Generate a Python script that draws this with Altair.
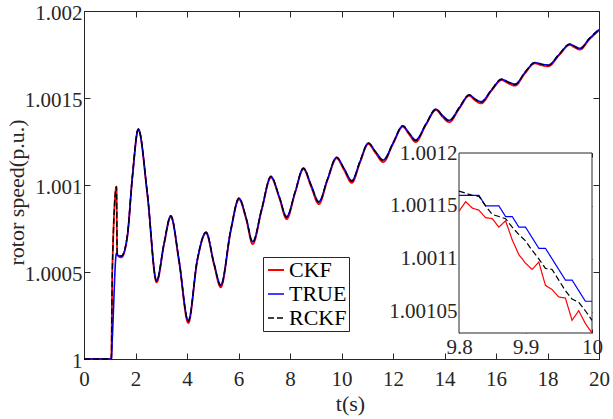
import altair as alt
import pandas as pd

# ---------------------------------------------------------------- data
SERIES = ["CKF", "TRUE", "RCKF"]
SERIES_COLORS = ["#ff0000", "#0000ff", "#000000"]
SERIES_DASHES = [[1, 0], [1, 0], [6, 3]]
SERIES_WIDTHS = [1.8, 1.4, 1.4]

# full record, 0-20 s
T_MAIN = [0.0, 1.06, 1.10, 1.26, 1.29, 1.45, 1.68, 1.88, 2.11, 2.46,
          2.82, 3.11, 3.37, 3.69, 4.05, 4.40, 4.74, 5.05, 5.31, 5.70,
          6.02, 6.30, 6.55, 6.90, 7.26, 7.58, 7.87, 8.20, 8.52, 8.82,
          9.12, 9.45, 9.81, 10.10, 10.40, 10.72, 11.04, 11.33, 11.62, 12.00,
          12.38, 12.62, 12.88, 13.28, 13.67, 13.92, 14.18, 14.58, 14.96, 15.18,
          15.42, 15.82, 16.22, 16.48, 16.74, 17.12, 17.51, 17.77, 18.03, 18.45,
          18.87, 19.06, 19.26, 19.62, 20.00]

TRUE_MAIN = [1.0, 1.0, 1.000121, 1.000607, 1.000600, 1.000590, 1.000703, 1.001048, 1.001320, 1.000952,
             1.000450, 1.000665, 1.000822, 1.000569, 1.000220, 1.000569, 1.000728, 1.000550, 1.000425, 1.000741,
             1.000923, 1.000810, 1.000674, 1.000860, 1.001048, 1.000935, 1.000818, 1.000960, 1.001096, 1.001000,
             1.000904, 1.001030, 1.001158, 1.001095, 1.001025, 1.001135, 1.001240, 1.001190, 1.001144, 1.001240,
             1.001339, 1.001300, 1.001259, 1.001350, 1.001435, 1.001400, 1.001372, 1.001445, 1.001517, 1.001495,
             1.001479, 1.001545, 1.001607, 1.001592, 1.001580, 1.001645, 1.001703, 1.001695, 1.001690, 1.001750,
             1.001809, 1.001797, 1.001786, 1.001840, 1.001893]

RCKF_MAIN = [1.0, 1.0, 1.000511, 1.000990, 1.000603, 1.000592, 1.000706, 1.001050, 1.001322, 1.000950,
             1.000447, 1.000667, 1.000824, 1.000566, 1.000216, 1.000571, 1.000730, 1.000548, 1.000421, 1.000743,
             1.000925, 1.000808, 1.000670, 1.000862, 1.001050, 1.000933, 1.000814, 1.000962, 1.001098, 1.000998,
             1.000900, 1.001032, 1.001160, 1.001093, 1.001021, 1.001137, 1.001242, 1.001188, 1.001140, 1.001242,
             1.001341, 1.001298, 1.001255, 1.001352, 1.001437, 1.001398, 1.001368, 1.001447, 1.001519, 1.001493,
             1.001475, 1.001547, 1.001609, 1.001590, 1.001576, 1.001647, 1.001705, 1.001693, 1.001686, 1.001752,
             1.001811, 1.001795, 1.001782, 1.001842, 1.001895]

CKF_MAIN = [1.0, 1.0, 1.000511, 1.000990, 1.000598, 1.000584, 1.000700, 1.001046, 1.001318, 1.000946,
            1.000440, 1.000660, 1.000818, 1.000560, 1.000207, 1.000565, 1.000724, 1.000541, 1.000412, 1.000736,
            1.000918, 1.000802, 1.000660, 1.000856, 1.001043, 1.000928, 1.000804, 1.000956, 1.001092, 1.000990,
            1.000890, 1.001026, 1.001153, 1.001086, 1.001012, 1.001130, 1.001236, 1.001182, 1.001131, 1.001236,
            1.001335, 1.001292, 1.001247, 1.001346, 1.001431, 1.001392, 1.001361, 1.001441, 1.001513, 1.001487,
            1.001469, 1.001541, 1.001603, 1.001584, 1.001571, 1.001641, 1.001699, 1.001688, 1.001682, 1.001746,
            1.001805, 1.001790, 1.001778, 1.001836, 1.001889]

# close-up, 9.8-10 s
T_ZOOM = [9.80, 9.81, 9.82, 9.83, 9.84, 9.85, 9.86, 9.87, 9.88, 9.89, 9.90,
          9.91, 9.92, 9.93, 9.94, 9.95, 9.96, 9.97, 9.98, 9.99, 10.00]

TRUE_ZOOM = [1.00116, 1.00116, 1.00116, 1.00116, 1.00115, 1.00115, 1.00115, 1.00114, 1.00114, 1.00113, 1.00113,
             1.00112, 1.00111, 1.00111, 1.00110, 1.00109, 1.00108, 1.00108, 1.00107, 1.00106, 1.00106]

RCKF_ZOOM = [1.001164, 1.001162, 1.001160, 1.001159, 1.001150, 1.001142, 1.001140, 1.001138, 1.001130, 1.001123, 1.001117,
             1.001108, 1.001100, 1.001091, 1.001090, 1.001080, 1.001070, 1.001062, 1.001059, 1.001051, 1.001042]

CKF_ZOOM = [1.001145, 1.001154, 1.001148, 1.001146, 1.001139, 1.001138, 1.001130, 1.001136, 1.001118, 1.001104, 1.001096,
            1.001090, 1.001097, 1.001075, 1.001071, 1.001064, 1.001063, 1.001042, 1.001051, 1.001039, 1.001030]

X_DOMAIN = [0, 20]
Y_DOMAIN = [1.0, 1.002]
X_TICKS = [0, 2, 4, 6, 8, 10, 12, 14, 16, 18, 20]
Y_TICKS = [1.0, 1.0005, 1.001, 1.0015, 1.002]

ZOOM_X_DOMAIN = [9.8, 10.0]
ZOOM_Y_DOMAIN = [1.00103, 1.0012]
ZOOM_X_TICKS = [9.8, 9.9, 10.0]
ZOOM_Y_TICKS = [1.00105, 1.0011, 1.00115, 1.0012]

# ---------------------------------------------------------------- layout / style
W, H = 515, 348
FONT = "Liberation Serif"
INK = "#262626"
LABEL_SIZE = 21
TICK = 6          # inward tick length, main frame
ZTICK = 4         # inward tick length, close-up frame
ZX0, ZX1 = 375, 508      # close-up window inside the plot (px)
ZY_TOP, ZY_BOT = 142, 322


def long_table(t, columns):
    rows = []
    for name, values in columns:
        assert len(values) == len(t)
        for ti, v in zip(t, values):
            rows.append({"t": ti, "speed": v, "series": name})
    return pd.DataFrame(rows)


main_df = long_table(T_MAIN, [("CKF", CKF_MAIN), ("TRUE", TRUE_MAIN), ("RCKF", RCKF_MAIN)])
zoom_df = long_table(T_ZOOM, [("CKF", CKF_ZOOM), ("TRUE", TRUE_ZOOM), ("RCKF", RCKF_ZOOM)])
frame_df = pd.DataFrame({"t": X_DOMAIN, "speed": Y_DOMAIN})
box_df = pd.DataFrame({"t0": [ZOOM_X_DOMAIN[0]], "t1": [ZOOM_X_DOMAIN[1]],
                       "s0": [ZOOM_Y_DOMAIN[0]], "s1": [ZOOM_Y_DOMAIN[1]]})


def axis(**kw):
    base = dict(labelFont=FONT, labelFontSize=LABEL_SIZE, labelColor=INK, titleFont=FONT,
                titleFontSize=22, titleColor=INK, titleFontWeight="normal", tickColor=INK,
                tickWidth=1, grid=False, domain=False, labelBound=False)
    base.update(kw)
    return alt.Axis(**base)


def x_main(ax):
    return alt.X("t:Q", scale=alt.Scale(domain=X_DOMAIN, nice=False, zero=False), axis=ax)


def y_main(ax):
    return alt.Y("speed:Q", scale=alt.Scale(domain=Y_DOMAIN, nice=False, zero=False), axis=ax)


def x_zoom(field, ax):
    return alt.X(field, scale=alt.Scale(domain=ZOOM_X_DOMAIN, range=[ZX0, ZX1], nice=False, zero=False), axis=ax)


def y_zoom(field, ax):
    return alt.Y(field, scale=alt.Scale(domain=ZOOM_Y_DOMAIN, range=[ZY_BOT, ZY_TOP], nice=False, zero=False), axis=ax)


legend = alt.Legend(title=None, orient="none", legendX=179, legendY=246,
                    symbolType="stroke", symbolSize=256, symbolStrokeWidth=1.2,
                    labelFont=FONT, labelFontSize=22, labelColor="#000000",
                    padding=2, rowPadding=2, labelOffset=2,
                    strokeColor=INK, fillColor="white")

color = alt.Color("series:N", scale=alt.Scale(domain=SERIES, range=SERIES_COLORS), legend=legend)
dash = alt.StrokeDash("series:N", scale=alt.Scale(domain=SERIES, range=SERIES_DASHES), legend=legend)

# main curves
lines = alt.Chart(main_df).mark_line(interpolate="monotone").encode(
    x=x_main(axis(orient="bottom", values=X_TICKS, format="d", offset=-TICK, tickSize=TICK,
                  labelPadding=9, labelFlush=False, title="t(s)", titlePadding=4, titleX=266)),
    y=y_main(axis(orient="left", values=Y_TICKS, format=".6~g", offset=-TICK, tickSize=TICK,
                  labelPadding=2, labelOffset=2, title="rotor speed(p.u.)", titlePadding=-4, titleY=181)),
    color=color,
    strokeDash=dash,
    strokeWidth=alt.StrokeWidth("series:N", scale=alt.Scale(domain=SERIES, range=SERIES_WIDTHS), legend=None),
)

# inward ticks on the top and right edges of the main frame
frame_ticks = alt.Chart(frame_df).mark_point(opacity=0).encode(
    x=x_main(axis(orient="top", values=X_TICKS, labels=False, offset=-TICK, tickSize=TICK, title=None)),
    y=y_main(axis(orient="right", values=Y_TICKS, labels=False, offset=-TICK, tickSize=TICK, title=None)),
)

# close-up panel
box = alt.Chart(box_df).mark_rect(fill="white", stroke=INK, strokeWidth=1).encode(
    x=x_zoom("t0:Q", None), x2="t1", y=y_zoom("s0:Q", None), y2="s1",
)

zoom_lines = alt.Chart(zoom_df).mark_line(strokeWidth=1.2).encode(
    x=x_zoom("t:Q", axis(orient="bottom", values=ZOOM_X_TICKS, format="~g", offset=-(H - ZY_BOT + ZTICK),
                         tickSize=ZTICK, labelPadding=3, labelFlush=False, title=None)),
    y=y_zoom("speed:Q", axis(orient="left", values=ZOOM_Y_TICKS, format=".6~g", offset=-(ZX0 + ZTICK),
                             tickSize=ZTICK, labelPadding=2, title=None)),
    color=alt.Color("series:N", scale=alt.Scale(domain=SERIES, range=SERIES_COLORS), legend=None),
    strokeDash=alt.StrokeDash("series:N", scale=alt.Scale(domain=SERIES, range=SERIES_DASHES), legend=None),
)

zoom_ticks = alt.Chart(box_df).mark_point(opacity=0).encode(
    x=x_zoom("t0:Q", axis(orient="top", values=ZOOM_X_TICKS, labels=False, offset=-(ZY_TOP + ZTICK),
                          tickSize=ZTICK, title=None)),
    y=y_zoom("s0:Q", axis(orient="right", values=ZOOM_Y_TICKS, labels=False, offset=-(W - ZX1 + ZTICK),
                          tickSize=ZTICK, title=None)),
)

chart = (
    alt.layer(lines, frame_ticks, box, zoom_lines, zoom_ticks)
    .resolve_scale(x="independent", y="independent")
    .resolve_axis(x="independent", y="independent")
    .properties(width=W, height=H, autosize=alt.AutoSizeParams(type="none"),
                padding={"left": 84, "top": 11, "right": 14, "bottom": 60})
    .configure_view(stroke=INK, strokeWidth=1)
    .configure_axis(labelFont=FONT, titleFont=FONT)
)

chart.save("out.html", embed_options={"renderer": "svg", "actions": False})
